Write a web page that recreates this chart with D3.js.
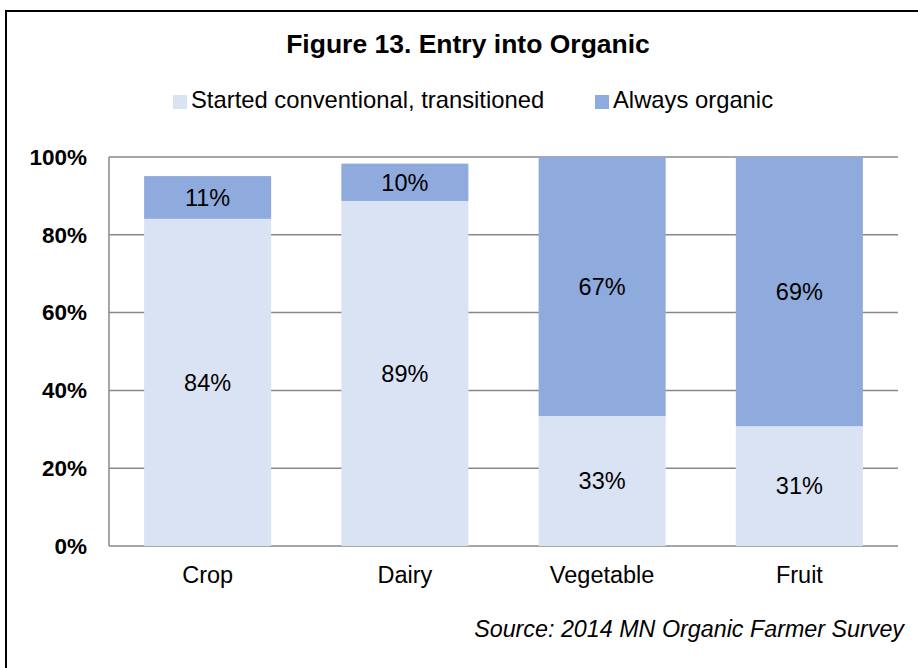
<!DOCTYPE html>
<html>
<head>
<meta charset="utf-8">
<script src="https://cdn.jsdelivr.net/npm/d3@7"></script>
<style>
  body { margin: 0; background: #fff; }
  text { font-family: "Liberation Sans", Arial, sans-serif; fill: #000; }
</style>
</head>
<body>
<script>
// chart data
var categories = ["Crop", "Dairy", "Vegetable", "Fruit"];
var startedConventional = [0.841, 0.887, 0.334, 0.308];
var alwaysOrganic = [0.110, 0.096, 0.666, 0.692];
var seriesNames = ["Started conventional, transitioned", "Always organic"];
var yTicks = [0, 0.2, 0.4, 0.6, 0.8, 1.0];

var svgWidth = 918;
var svgHeight = 668;

var margin = { top: 157, right: 20, bottom: 122, left: 109 };
var width = 898 - margin.left;
var height = 546 - margin.top;

var colors = ["#dae3f3", "#8faadc"];

var svg = d3.select("body")
    .append("svg")
    .attr("width", svgWidth)
    .attr("height", svgHeight);

// outer frame
svg.append("rect")
    .attr("x", 6)
    .attr("y", 11)
    .attr("width", 960)
    .attr("height", 720)
    .attr("fill", "none")
    .attr("stroke", "#000")
    .attr("stroke-width", 2);

svg.append("text")
    .attr("x", 468)
    .attr("y", 53)
    .attr("text-anchor", "middle")
    .style("font-size", "26.5px")
    .style("font-weight", "bold")
    .text("Figure 13. Entry into Organic");

// legend
var legendX = [173, 595];
seriesNames.forEach(function (name, i) {
    svg.append("rect")
        .attr("x", legendX[i])
        .attr("y", 95)
        .attr("width", 14)
        .attr("height", 14)
        .attr("fill", colors[i]);
    svg.append("text")
        .attr("x", legendX[i] + 18)
        .attr("y", 108)
        .style("font-size", "23.8px")
        .text(name);
});

var chartGroup = svg.append("g")
    .attr("transform", `translate(${margin.left}, ${margin.top})`);

var xScale = d3.scaleBand()
    .domain(categories)
    .range([0, width])
    .paddingInner(0.356)
    .paddingOuter(0.178);

var yScale = d3.scaleLinear()
    .domain([0, 1])
    .range([height, 0]);

// gridlines
chartGroup.append("g")
    .selectAll("line")
    .data(yTicks)
    .enter()
    .append("line")
    .attr("x1", 0)
    .attr("x2", width)
    .attr("y1", d => yScale(d))
    .attr("y2", d => yScale(d))
    .attr("stroke", "#888")
    .attr("stroke-width", 1.5);

chartGroup.append("line")
    .attr("x1", 0)
    .attr("x2", 0)
    .attr("y1", 0)
    .attr("y2", height)
    .attr("stroke", "#888")
    .attr("stroke-width", 1.5);

// y tick labels
var leftAxis = d3.axisLeft(yScale)
    .tickValues(yTicks)
    .tickFormat(d3.format(".0%"))
    .tickSize(0)
    .tickPadding(22);

var yAxis = chartGroup.append("g").call(leftAxis);
yAxis.select(".domain").remove();
yAxis.selectAll("text")
    .style("font-family", "'Liberation Sans', Arial, sans-serif")
    .style("font-size", "22.5px")
    .style("font-weight", "bold")
    .attr("fill", "#000");

// x category labels
var bottomAxis = d3.axisBottom(xScale).tickSize(0).tickPadding(20);
var xAxis = chartGroup.append("g")
    .attr("transform", `translate(0, ${height})`)
    .call(bottomAxis);
xAxis.select(".domain").remove();
xAxis.selectAll("text")
    .style("font-family", "'Liberation Sans', Arial, sans-serif")
    .style("font-size", "23.5px")
    .attr("fill", "#000");

// stacked bars
var rows = categories.map(function (c, i) {
    return { category: c, started: startedConventional[i], always: alwaysOrganic[i] };
});
var stacked = d3.stack().keys(["started", "always"])(rows);

var fmt = d3.format(".0%");

stacked.forEach(function (layer, li) {
    chartGroup.append("g")
        .selectAll("rect")
        .data(layer)
        .enter()
        .append("rect")
        .attr("x", d => xScale(d.data.category))
        .attr("y", d => yScale(d[1]))
        .attr("width", xScale.bandwidth())
        .attr("height", d => yScale(d[0]) - yScale(d[1]))
        .attr("fill", colors[li]);

    chartGroup.append("g")
        .selectAll("text")
        .data(layer)
        .enter()
        .append("text")
        .attr("x", d => xScale(d.data.category) + xScale.bandwidth() / 2)
        .attr("y", d => (yScale(d[0]) + yScale(d[1])) / 2)
        .attr("dy", "0.35em")
        .attr("text-anchor", "middle")
        .style("font-size", "23.5px")
        .text(d => fmt(d[1] - d[0]));
});

svg.append("text")
    .attr("x", 904)
    .attr("y", 637)
    .attr("text-anchor", "end")
    .style("font-size", "23.3px")
    .style("font-style", "italic")
    .text("Source: 2014 MN Organic Farmer Survey");
</script>
</body>
</html>
